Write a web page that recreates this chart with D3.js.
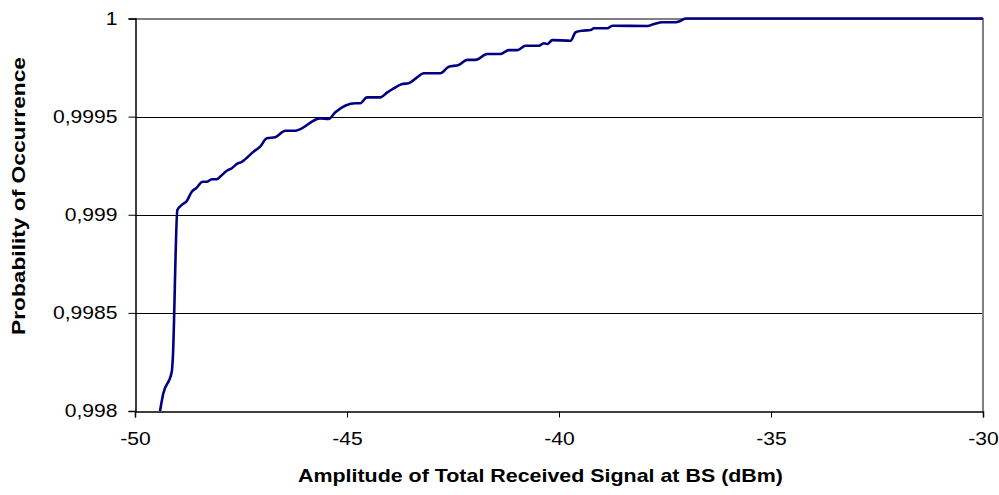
<!DOCTYPE html>
<html>
<head>
<meta charset="utf-8">
<script src="https://cdn.jsdelivr.net/npm/d3@7"></script>
<style>
  html, body { margin: 0; padding: 0; background: #fff; }
  svg { display: block; font-family: "Liberation Sans", Arial, sans-serif; }
</style>
</head>
<body>
<svg id="chart" width="999" height="495"></svg>
<script>
// Data
const amplitudeDbm = [
  -49.41, -49.332, -49.133, -49.110, -49.001, -48.897, -48.779, -48.661, -48.559, -48.401,
  -48.307, -48.188, -48.070, -47.992, -47.834, -47.716, -47.598, -47.480, -47.206, -47.048,
  -46.889, -46.693, -46.457, -46.221, -45.631, -45.435, -45.276, -44.804, -44.686, -44.528,
  -44.214, -44.056, -43.899, -43.701, -43.545, -43.347, -43.191, -42.796, -42.600, -42.364,
  -42.166, -41.970, -41.693, -41.379, -41.183, -40.985, -40.789, -40.475, -40.357, -40.276,
  -40.158, -39.726, -39.608, -39.450, -39.254, -39.176, -38.859, -38.741, -37.915, -37.758,
  -37.560, -37.246, -37.128, -37.010, -30.0
];
const probability = [
  0.998000, 0.998090, 0.998200, 0.998260, 0.999024, 0.999050, 0.999070, 0.999117, 0.999135, 0.999168,
  0.999168, 0.999181, 0.999181, 0.999194, 0.999224, 0.999237, 0.999259, 0.999270, 0.999321, 0.999347,
  0.999390, 0.999395, 0.999428, 0.999428, 0.999491, 0.999488, 0.999522, 0.999568, 0.999568, 0.999598,
  0.999598, 0.999622, 0.999644, 0.999666, 0.999670, 0.999700, 0.999721, 0.999721, 0.999754, 0.999763,
  0.999789, 0.999789, 0.999819, 0.999819, 0.999839, 0.999839, 0.999861, 0.999861, 0.999874, 0.999870,
  0.999890, 0.999887, 0.999930, 0.999938, 0.999941, 0.999950, 0.999950, 0.999963, 0.999962, 0.999972,
  0.999981, 0.999981, 0.999989, 1.000000, 1.000000
];
const xTicks = [-50, -45, -40, -35, -30];
const yTicks = [0.998, 0.9985, 0.999, 0.9995, 1];
const yTickLabels = ["0,998", "0,9985", "0,999", "0,9995", "1"];
const xTitle = "Amplitude of Total Received Signal at BS (dBm)";
const yTitle = "Probability of Occurrence";

(function () {
const svg = d3.select("#chart");
const pLeft = 135, pRight = 983, pTop = 18.5, pBottom = 411;
const fontSize = "18.5px";
const stretch = 1.14;

const x = d3.scaleLinear().domain([-50, -30]).range([pLeft, pRight]);
const y = d3.scaleLinear().domain([0.998, 1]).range([pBottom, pTop]);

// gridlines
svg.append("g").selectAll("line")
  .data(yTicks.filter(d => d > 0.998 && d < 1))
  .join("line")
  .attr("x1", pLeft).attr("x2", pRight)
  .attr("y1", d => Math.round(y(d)) + 0.5).attr("y2", d => Math.round(y(d)) + 0.5)
  .attr("stroke", "#000").attr("stroke-width", 1);

// plot area border (top & right gray)
svg.append("line").attr("x1", pLeft).attr("x2", pRight + 1)
  .attr("y1", Math.round(pTop)).attr("y2", Math.round(pTop))
  .attr("stroke", "#808080").attr("stroke-width", 2);
svg.append("line").attr("x1", pRight).attr("x2", pRight)
  .attr("y1", pTop).attr("y2", pBottom)
  .attr("stroke", "#808080").attr("stroke-width", 2);

// axes
const fmt = d => yTickLabels[yTicks.indexOf(d)];
const yAxis = d3.axisLeft(y).tickValues(yTicks).tickFormat(fmt).tickSize(7).tickPadding(11);
const gy = svg.append("g").attr("transform", `translate(${pLeft + 0.5},0)`).call(yAxis);
const xAxis = d3.axisBottom(x).tickValues(xTicks).tickFormat(d => String(d)).tickSize(6).tickPadding(14);
const gx = svg.append("g").attr("transform", `translate(0,${Math.round(pBottom) + 0.5})`).call(xAxis);
[gx, gy].forEach(g => {
  g.select(".domain").attr("stroke", "#000").attr("stroke-width", 1.5);
  g.selectAll(".tick line").attr("stroke", "#000");
  g.selectAll(".tick text").attr("fill", "#000")
    .style("font-family", "'Liberation Sans', Arial, sans-serif").style("font-size", fontSize)
    .each(function () {
      const w = this.getComputedTextLength();
      d3.select(this).attr("textLength", w * stretch).attr("lengthAdjust", "spacingAndGlyphs");
    });
});

// line
const pts = amplitudeDbm.map((a, i) => [a, probability[i]]);
const line = d3.line().x(d => x(d[0])).y(d => y(d[1])).curve(d3.curveMonotoneX);
svg.append("path").datum(pts)
  .attr("d", line)
  .attr("fill", "none")
  .attr("stroke", "#000080")
  .attr("stroke-width", 2.6)
  .attr("stroke-linejoin", "round");

// titles
svg.append("text")
  .attr("x", 540.5).attr("y", 482)
  .attr("text-anchor", "middle")
  .attr("textLength", 485).attr("lengthAdjust", "spacingAndGlyphs")
  .style("font-weight", "bold").style("font-size", fontSize)
  .text(xTitle);
svg.append("text")
  .attr("transform", `translate(24.5,196) rotate(-90)`)
  .attr("text-anchor", "middle")
  .attr("textLength", 278).attr("lengthAdjust", "spacingAndGlyphs")
  .style("font-weight", "bold").style("font-size", fontSize)
  .text(yTitle);
})();
</script>
</body>
</html>
